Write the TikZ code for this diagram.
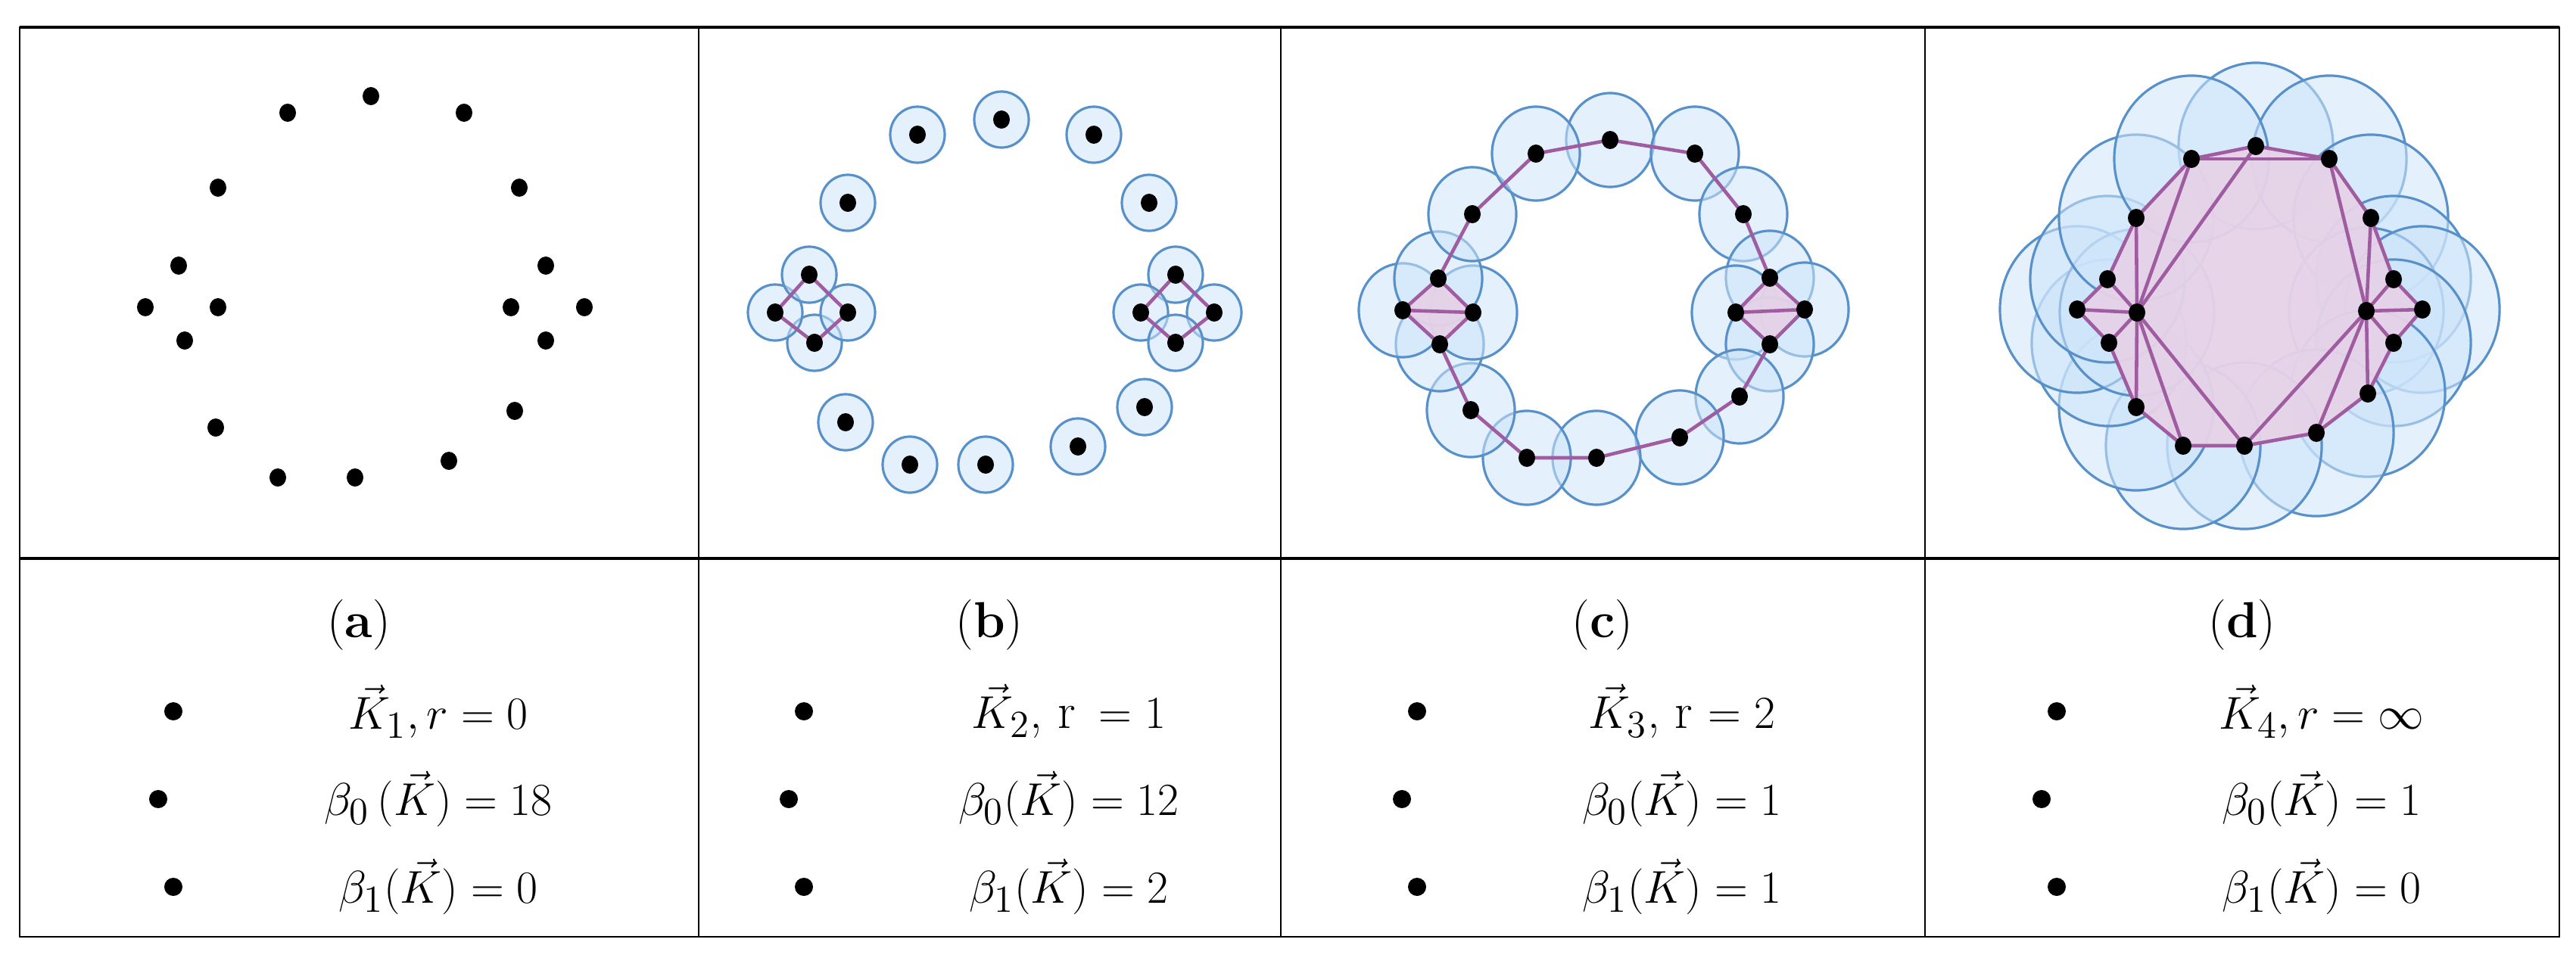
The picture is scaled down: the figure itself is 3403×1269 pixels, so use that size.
\documentclass[tikz,border=0pt]{standalone}
\usepackage{amsmath}
\definecolor{ballfill}{RGB}{205,228,250}
\definecolor{ballline}{RGB}{88,145,202}
\definecolor{simfill}{RGB}{230,210,232}
\definecolor{simline}{RGB}{160,92,160}
\tikzstyle{pt} = [ellipse, inner sep=0pt, minimum width=0.22cm, minimum height=0.24cm, fill=black]
\tikzstyle{ball} = [draw=ballline, line width=0.9pt, fill=ballfill, fill opacity=0.55]
\tikzstyle{edge} = [draw=simline, line width=1.3pt]
\tikzstyle{simplex} = [fill=simfill, fill opacity=0.95]
\tikzstyle{txt} = [font=\fontsize{19}{22}\selectfont, inner sep=0pt]
\tikzstyle{bul} = [circle, fill=black, inner sep=0pt, minimum size=0.24cm]
\usetikzlibrary{shapes.geometric}

\begin{document}
\begin{tikzpicture}[x=0.01cm, y=-0.01cm]
\useasboundingbox (0,0) rectangle (3403,1269);

%Table
\draw[line width=0.6pt] (26,36) rectangle (3381,1238);
\draw[line width=1.2pt] (26,36) -- (3381,36);
\draw[line width=1.2pt] (26,738) -- (3381,738);
\foreach \x in {923,1692,2543} \draw[line width=0.6pt] (\x,36) -- (\x,1238);

%Points
\foreach \n/\x/\y in {1/490/127,2/613/149,3/686/248,4/721/351,5/675/406,6/772/406,7/721/450,8/680/543,9/593/609,10/469/631,11/367/631,12/285/565,13/244/450,14/192/406,15/288/406,16/236/351,17/288/248,18/380/149}
  \node[pt] (a\n) at (\x,\y) {};
\foreach \n/\x/\y in {1/1323/158,2/1445/178,3/1518/268,4/1553/363,5/1507/413,6/1604/413,7/1553/453,8/1512/538,9/1424/590,10/1302/614,11/1202/614,12/1117/558,13/1076/453,14/1024/413,15/1120/413,16/1069/363,17/1120/268,18/1212/178}
  \coordinate (b\n) at (\x,\y);
\foreach \n/\x/\y in {1/2127/185,2/2239/203,3/2303/283,4/2338/367,5/2293/413,6/2384/409,7/2338/455,8/2298/524,9/2219/578,10/2109/605,11/2017/605,12/1943/542,13/1902/455,14/1853/410,15/1946/413,16/1900/368,17/1945/283,18/2029/203}
  \coordinate (c\n) at (\x,\y);
\foreach \n/\x/\y in {1/2980/193,2/3077/210,3/3132/288,4/3162/369,5/3126/411,6/3200/409,7/3162/453,8/3128/520,9/3060/572,10/2965/589,11/2884/589,12/2822/538,13/2786/453,14/2744/409,15/2823/413,16/2784/369,17/2822/288,18/2895/210}
  \coordinate (d\n) at (\x,\y);

%Balls
\foreach \n in {1,...,18} {
  \draw[ball] (b\n) ellipse [x radius=0.36cm, y radius=0.37cm];
  \draw[ball] (c\n) ellipse [x radius=0.58cm, y radius=0.62cm];
  \draw[ball] (d\n) ellipse [x radius=1.02cm, y radius=1.10cm];
}

%Simplices
\fill[simplex] (c16) -- (c14) -- (c13) -- (c15) -- cycle;
\fill[simplex] (c4) -- (c5) -- (c7) -- (c6) -- cycle;
\fill[simplex] (d1) -- (d2) -- (d3) -- (d4) -- (d6) -- (d7) -- (d8) -- (d9) -- (d10) -- (d11) -- (d12) -- (d13) -- (d14) -- (d16) -- (d17) -- (d18) -- cycle;

%Edges
\draw[edge] (b16) -- (b14) -- (b13) -- (b15) -- (b16);
\draw[edge] (b4) -- (b5) -- (b7) -- (b6) -- (b4);
\draw[edge] (c16) -- (c17) -- (c18) -- (c1) -- (c2) -- (c3) -- (c4);
\draw[edge] (c7) -- (c8) -- (c9) -- (c10) -- (c11) -- (c12) -- (c13);
\draw[edge] (c16) -- (c14) -- (c13) -- (c15) -- (c16) (c14) -- (c15);
\draw[edge] (c4) -- (c5) -- (c7) -- (c6) -- (c4) (c5) -- (c6);
\draw[edge] (d1) -- (d2) -- (d3) -- (d4) -- (d6) -- (d7) -- (d8) -- (d9) -- (d10) -- (d11) -- (d12) -- (d13) -- (d14) -- (d16) -- (d17) -- (d18) -- (d1);
\draw[edge] (d18) -- (d2);
\foreach \m in {1,10,11,12,13,14,16,17,18} \draw[edge] (d15) -- (d\m);
\foreach \m in {2,3,4,6,7,8,9,10} \draw[edge] (d5) -- (d\m);

%Dots
\foreach \n in {1,...,18} {
  \node[pt] (bp\n) at (b\n) {};
  \node[pt] (cp\n) at (c\n) {};
  \node[pt] (dp\n) at (d\n) {};
}

%Captions
\foreach \cx/\lab/\ra/\rb/\rc in {
  474/a/{$\vec{K}_1, r = 0$}/{$\beta_0\,(\vec{K}) = 18$}/{$\beta_1(\vec{K}) = 0$},
  1307/b/{$\vec{K}_2$, r $\,= 1$}/{$\beta_0(\vec{K}) = 12$}/{$\beta_1(\vec{K}) = 2$},
  2117/c/{$\vec{K}_3$, r $= 2$}/{$\beta_0(\vec{K}) = 1$}/{$\beta_1(\vec{K}) = 1$},
  2962/d/{$\vec{K}_4, r = \infty$}/{$\beta_0(\vec{K}) = 1$}/{$\beta_1(\vec{K}) = 0$}} {
  \node[txt] (cap\lab) at (\cx,826) {(\textbf{\lab})};
  \node[txt] (r1\lab) at (\cx+105,940) {\ra};
  \node[txt] (r2\lab) at (\cx+105,1056) {\rb};
  \node[txt] (r3\lab) at (\cx+105,1172) {\rc};
  \node[bul] (u1\lab) at (\cx-245,940) {};
  \node[bul] (u2\lab) at (\cx-265,1056) {};
  \node[bul] (u3\lab) at (\cx-245,1172) {};
}

\end{tikzpicture}
\end{document}
